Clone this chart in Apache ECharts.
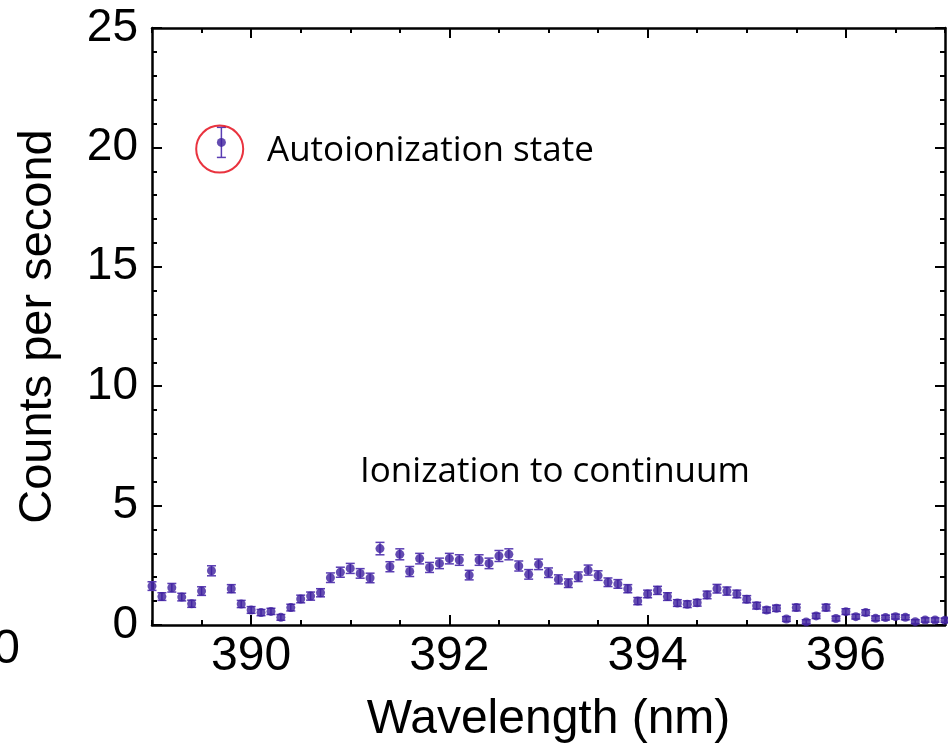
<!DOCTYPE html>
<html><head><meta charset="utf-8">
<script src="https://cdn.jsdelivr.net/npm/echarts@6/dist/echarts.min.js"></script>
<style>html,body{margin:0;padding:0;background:#fff}#c{width:948px;height:754px}</style>
</head><body><div id="c"></div>
<script>
const wavelengths = [389.0,389.1,389.2,389.3,389.4,389.5,389.6,389.7,389.8,389.9,
  390.0,390.1,390.2,390.3,390.4,390.5,390.6,390.7,390.8,390.9,
  391.0,391.1,391.2,391.3,391.4,391.5,391.6,391.7,391.8,391.9,
  392.0,392.1,392.2,392.3,392.4,392.5,392.6,392.7,392.8,392.9,
  393.0,393.1,393.2,393.3,393.4,393.5,393.6,393.7,393.8,393.9,
  394.0,394.1,394.2,394.3,394.4,394.5,394.6,394.7,394.8,394.9,
  395.0,395.1,395.2,395.3,395.4,395.5,395.6,395.7,395.8,395.9,
  396.0,396.1,396.2,396.3,396.4,396.5,396.6,396.7,396.8,396.9,397.0];
const counts = [1.63,1.19,1.56,1.17,0.89,1.42,2.27,20.21,1.52,0.88,
  0.63,0.52,0.57,0.32,0.73,1.09,1.21,1.35,1.98,2.21,
  2.37,2.16,1.97,3.20,2.44,2.96,2.24,2.78,2.41,2.58,
  2.78,2.72,2.09,2.72,2.58,2.89,2.96,2.47,2.12,2.54,
  2.19,1.91,1.75,2.02,2.30,2.07,1.79,1.72,1.52,1.00,
  1.30,1.45,1.19,0.92,0.87,0.93,1.26,1.52,1.42,1.30,
  1.08,0.81,0.63,0.70,0.25,0.73,0.13,0.38,0.73,0.27,
  0.56,0.35,0.52,0.28,0.31,0.35,0.32,0.14,0.21,0.21,0.20];
const errors = [0.18,0.16,0.18,0.16,0.15,0.18,0.21,0.63,0.17,0.15,
  0.14,0.13,0.13,0.12,0.14,0.16,0.17,0.17,0.2,0.21,
  0.21,0.2,0.2,0.26,0.21,0.23,0.21,0.22,0.21,0.22,
  0.22,0.22,0.2,0.22,0.22,0.23,0.23,0.21,0.2,0.22,
  0.2,0.19,0.18,0.2,0.21,0.2,0.18,0.18,0.17,0.15,
  0.16,0.17,0.16,0.14,0.14,0.14,0.16,0.18,0.17,0.16,
  0.15,0.14,0.12,0.13,0.1,0.14,0.09,0.11,0.14,0.1,
  0.12,0.1,0.12,0.1,0.1,0.1,0.1,0.08,0.09,0.09,0.09];
const xTickValues = [390, 392, 394, 396];
const circleAt = [[389.683, 19.93]];
const annotations = ['Autoionization state', 'Ionization to continuum'];
const xTitle = 'Wavelength (nm)';
const yTitle = 'Counts per second';

const pts = wavelengths.map((w, i) => [w, counts[i]]);
const bars = wavelengths.map((w, i) => [w, counts[i] - errors[i], counts[i] + errors[i]]);

const dotColor = '#3d1f9e';
const barColor = '#5a3db3';
const axisFont = 'Liberation Sans';

function minorX(pos) {
  return {type:'value', position:pos, min:389, max:397, interval:0.5,
    axisLine:{show:true, onZero:false, lineStyle:{color:'#000', width:2.5}},
    axisTick:{show:true, inside:true, length:5, lineStyle:{color:'#000', width:2}},
    axisLabel:{show:false}, splitLine:{show:false}};
}
function majorX(pos, labels) {
  return {type:'value', position:pos, min:389, max:397,
    axisLine:{show:false, onZero:false},
    axisTick:{show:true, inside:true, length:10, customValues:xTickValues, lineStyle:{color:'#000', width:2}},
    axisLabel:{show:labels, customValues:xTickValues, fontSize:48, fontFamily:axisFont, color:'#000', margin:8},
    splitLine:{show:false},
    name: labels ? xTitle : '', nameLocation:'middle', nameGap:71,
    nameTextStyle:{fontSize:48, fontFamily:axisFont, color:'#000'}};
}
function yAx(pos, labels) {
  return {type:'value', position:pos, min:0, max:25, interval:5,
    axisLine:{show:true, onZero:false, lineStyle:{color:'#000', width:2.5}},
    axisTick:{show:true, inside:true, length:10, lineStyle:{color:'#000', width:2}},
    minorTick:{show:true, splitNumber:5, length:5, lineStyle:{color:'#000', width:2}},
    axisLabel:{show:labels, fontSize:46, fontFamily:axisFont, color:'#000', margin:14},
    splitLine:{show:false},
    name: labels ? yTitle : '', nameLocation:'middle', nameGap:90,
    nameTextStyle:{fontSize:47, fontFamily:axisFont, color:'#000'}};
}

const chart = echarts.init(document.getElementById('c'), null, {renderer:'canvas'});
chart.setOption({
  animation:false,
  backgroundColor:'#fff',
  grid:{left:152, right:3, top:28, bottom:129},
  xAxis:[
    minorX('bottom'),
    majorX('bottom', true),
    minorX('top'),
    majorX('top', false)
  ],
  yAxis:[yAx('left', true), yAx('right', false)],
  graphic:[
    {type:'text', x:267, y:151, style:{text:annotations[0], font:'35px "Open Sans"', fill:'#000', align:'left', verticalAlign:'middle', textAlign:'left', textVerticalAlign:'middle'}},
    {type:'text', x:360, y:472, style:{text:annotations[1], font:'35px "Open Sans"', fill:'#000', align:'left', verticalAlign:'middle', textAlign:'left', textVerticalAlign:'middle'}},
    {type:'text', x:20, y:650, style:{text:'0', font:'48px "Liberation Sans"', fill:'#000', align:'right', verticalAlign:'middle', textAlign:'right', textVerticalAlign:'middle'}}
  ],
  series:[
    {type:'custom', xAxisIndex:0, yAxisIndex:0, data:bars, clip:false, z:2,
      renderItem:function(params, api){
        const lo = api.coord([api.value(0), api.value(1)]);
        const hi = api.coord([api.value(0), api.value(2)]);
        const w = 4.5;
        const st = {stroke:barColor, lineWidth:1.5};
        return {type:'group', children:[
          {type:'line', shape:{x1:lo[0], y1:lo[1], x2:hi[0], y2:hi[1]}, style:st},
          {type:'line', shape:{x1:lo[0]-w, y1:lo[1], x2:lo[0]+w, y2:lo[1]}, style:st},
          {type:'line', shape:{x1:hi[0]-w, y1:hi[1], x2:hi[0]+w, y2:hi[1]}, style:st}
        ]};
      }},
    {type:'scatter', xAxisIndex:0, yAxisIndex:0, data:pts, symbol:'circle', symbolSize:9,
      itemStyle:{color:dotColor}, z:3, clip:false},
    {type:'scatter', xAxisIndex:0, yAxisIndex:0, data:circleAt, symbol:'circle', symbolSize:47,
      itemStyle:{color:'rgba(0,0,0,0)', borderColor:'#e4000f', borderWidth:2}, z:4, silent:true}
  ]
});
</script></body></html>
